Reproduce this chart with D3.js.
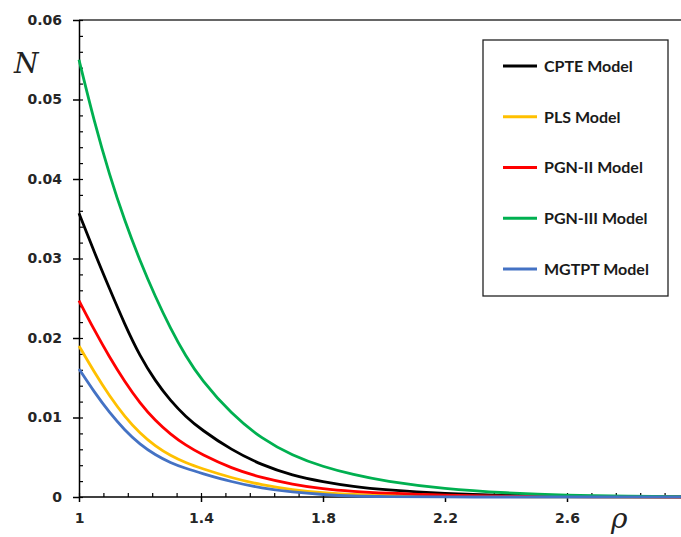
<!DOCTYPE html>
<html><head><meta charset="utf-8">
<script src="https://cdn.jsdelivr.net/npm/d3@7"></script>
<style>body{margin:0;background:#fff}svg{display:block}</style>
</head><body>
<svg id="c" width="681" height="537"></svg>
<script>
const rho = [1, 1.05, 1.1, 1.15, 1.2, 1.25, 1.3, 1.35, 1.4, 1.5, 1.6, 1.7, 1.8, 1.9, 2.0, 2.2, 2.4, 2.6, 2.8, 3.0];
const cpte   = [0.0357, 0.0308, 0.0262, 0.0217, 0.0177, 0.0146, 0.0121, 0.0101, 0.0085, 0.0059, 0.0040, 0.0027, 0.0019, 0.0013, 0.0009, 0.0004, 0.0002, 0.0001, 0.00003, 0.00001];
const pls    = [0.0190, 0.0157, 0.0127, 0.0101, 0.0080, 0.0064, 0.0052, 0.0043, 0.0036, 0.0024, 0.0015, 0.0009, 0.0005, 0.0003, 0.0002, 0.0001, 0.00003, 0.00001, 0, 0];
const pgn2   = [0.0247, 0.0210, 0.0176, 0.0145, 0.0118, 0.0096, 0.0079, 0.0065, 0.0054, 0.0036, 0.0024, 0.0016, 0.0010, 0.0007, 0.0005, 0.0002, 0.0001, 0.00004, 0.00001, 0];
const pgn3   = [0.0550, 0.0472, 0.0405, 0.0347, 0.0297, 0.0252, 0.0212, 0.0177, 0.0148, 0.0104, 0.0073, 0.0052, 0.0038, 0.0028, 0.0020, 0.0010, 0.0005, 0.0002, 0.0001, 0.00005];
const mgtpt  = [0.0161, 0.0132, 0.0106, 0.0084, 0.0066, 0.0053, 0.0043, 0.0036, 0.0030, 0.0019, 0.0011, 0.0006, 0.0003, 0.0001, 0.00005, 0, 0, 0, 0, 0];
const seriesNames = ["CPTE Model", "PLS Model", "PGN-II Model", "PGN-III Model", "MGTPT Model"];
const seriesColors = ["#000000", "#FFC000", "#FF0000", "#00B050", "#4472C4"];
const xTicks = [1, 1.4, 1.8, 2.2, 2.6];
const yTicks = [0, 0.01, 0.02, 0.03, 0.04, 0.05, 0.06];

const seriesValues = [cpte, pls, pgn2, pgn3, mgtpt];
const svg = d3.select("#c");
const x = d3.scaleLinear().domain([1, 3]).range([79, 689]);
const y = d3.scaleLinear().domain([0, 0.06]).range([497, 20]);
const xMax = x.invert(681);

const tickFont = "'DejaVu Sans', sans-serif";

// top frame line
svg.append("line").attr("x1", x(1)).attr("x2", 681).attr("y1", y(0.06)).attr("y2", y(0.06))
  .attr("stroke", "#333").attr("stroke-width", 1.5);

// minor y ticks (right side)
const yMinor = d3.range(0, 0.0601, 0.002);
svg.append("g").attr("transform", `translate(${x(1)},0)`)
  .call(d3.axisLeft(y).tickValues(yMinor).tickSize(-4).tickFormat(""))
  .call(g => g.select(".domain").remove())
  .selectAll("line").attr("stroke", "#000").attr("stroke-width", 1.2);

// major y axis
const gy = svg.append("g").attr("transform", `translate(${x(1)},0)`)
  .call(d3.axisLeft(y).tickValues(yTicks).tickSizeInner(6).tickSizeOuter(0).tickPadding(11)
    .tickFormat(d => d === 0 ? "0" : d3.format(".2f")(d)));
gy.select(".domain").attr("stroke", "#000").attr("stroke-width", 1.5);
gy.selectAll(".tick line").attr("stroke", "#000").attr("stroke-width", 1.5);
gy.selectAll("text").attr("font-family", tickFont).attr("font-weight", "bold")
  .attr("font-size", 14).attr("fill", "#262626");

// minor x ticks (upward)
const xMinor = d3.range(1, xMax, 0.08);
svg.append("g").attr("transform", `translate(0,${y(0)})`)
  .call(d3.axisBottom(x).tickValues(xMinor).tickSize(-4).tickFormat(""))
  .call(g => g.select(".domain").remove())
  .selectAll("line").attr("stroke", "#000").attr("stroke-width", 1.2);

// major x axis
const gx = svg.append("g").attr("transform", `translate(0,${y(0)})`)
  .call(d3.axisBottom(x).tickValues(xTicks).tickSizeInner(5).tickSizeOuter(0).tickPadding(11)
    .tickFormat(d => String(d)));
gx.select(".domain").attr("d", `M${x(1)},0H681`).attr("stroke", "#000").attr("stroke-width", 1.5);
gx.selectAll(".tick line").attr("stroke", "#000").attr("stroke-width", 1.5);
gx.selectAll("text").attr("font-family", tickFont).attr("font-weight", "bold")
  .attr("font-size", 14).attr("fill", "#262626");

// lines
const line = d3.line().x(d => x(d[0])).y(d => y(d[1])).curve(d3.curveBasis);
seriesValues.forEach((vals, i) => {
  svg.append("path").datum(rho.map((r, j) => [r, vals[j]]))
    .attr("d", line).attr("fill", "none").attr("stroke", seriesColors[i])
    .attr("stroke-width", 2.8).attr("stroke-linejoin", "round");
});

// axis titles
svg.append("text").attr("x", 14).attr("y", 73).text("N")
  .attr("font-family", "'DejaVu Serif', serif").attr("font-style", "italic")
  .attr("font-size", 28).attr("fill", "#222");
svg.append("text").attr("x", 611).attr("y", 528).text("ρ")
  .attr("font-family", "'DejaVu Serif', serif").attr("font-style", "italic")
  .attr("font-size", 28).attr("fill", "#222");

// legend
const lg = svg.append("g");
lg.append("rect").attr("x", 483).attr("y", 40).attr("width", 185).attr("height", 256)
  .attr("fill", "#fff").attr("stroke", "#222").attr("stroke-width", 1.3);
const ly = d3.scalePoint().domain(seriesNames).range([66, 269]);
seriesNames.forEach((n, i) => {
  lg.append("line").attr("x1", 503).attr("x2", 537).attr("y1", ly(n)).attr("y2", ly(n))
    .attr("stroke", seriesColors[i]).attr("stroke-width", 3);
  lg.append("text").attr("x", 544).attr("y", ly(n)).attr("dy", "0.36em").text(n)
    .attr("font-family", "Lato, sans-serif").attr("font-weight", "bold")
    .attr("font-size", 16).attr("fill", "#1a1a1a");
});
</script>
</body></html>
